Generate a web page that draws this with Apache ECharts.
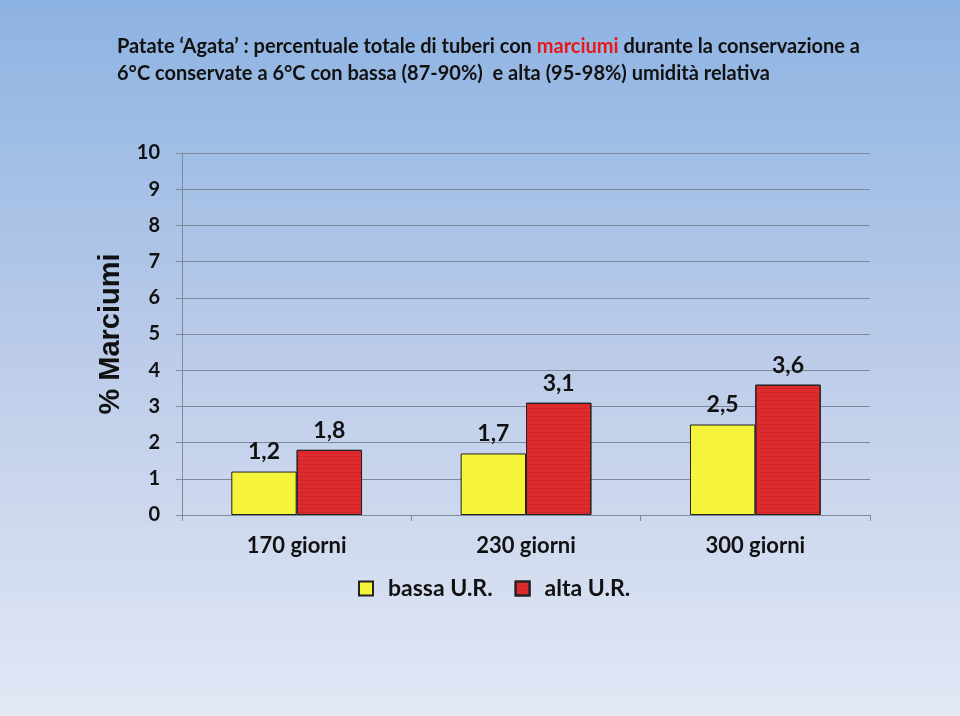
<!DOCTYPE html>
<html><head><meta charset="utf-8">
<script src="https://cdn.jsdelivr.net/npm/echarts@6/dist/echarts.min.js"></script>
<style>html,body{margin:0;padding:0}#c{width:960px;height:716px}</style>
</head><body><div id="c"></div>
<script>
const categories = ['170 giorni', '230 giorni', '300 giorni'];
const bassaUR = [1.2, 1.7, 2.5];
const altaUR = [1.8, 3.1, 3.6];
const seriesNames = ['bassa U.R.', 'alta U.R.'];
const yTicks = [0, 1, 2, 3, 4, 5, 6, 7, 8, 9, 10];

const FONT = 'Lato, "Open Sans", sans-serif';
const chart = echarts.init(document.getElementById('c'));
const fmt = p => String(p.value).replace('.', ',');
chart.setOption({
  animation: false,
  backgroundColor: {
    type: 'linear', x: 0, y: 0, x2: 0, y2: 1,
    colorStops: [{offset: 0, color: '#8db3e2'}, {offset: 0.5, color: '#bccce9'}, {offset: 1, color: '#e3e8f5'}]
  },
  title: {
    left: 112, top: 28,
    text: '{a|Patate \u2018Agata\u2019 : percentuale totale di tuberi con }{r|marciumi}{a| durante la conservazione a}\n{a|6\u00b0C conservate a 6\u00b0C con bassa (87-90%)  e alta (95-98%) umidit\u00e0 relativa}',
    textStyle: {
      rich: {
        a: {fontFamily: FONT, fontSize: 20, fontWeight: 'bold', color: '#111', lineHeight: 27},
        r: {fontFamily: FONT, fontSize: 20, fontWeight: 'bold', color: '#e8171a', lineHeight: 27}
      }
    }
  },
  legend: {
    top: 572, left: 353,
    itemWidth: 14, itemHeight: 14, itemGap: 22,
    icon: 'rect',
    textStyle: {fontFamily: FONT, fontSize: 23, fontWeight: 'bold', color: '#111', padding: [0, 0, 0, 10]},
    data: seriesNames
  },
  grid: {left: 182, right: 90, top: 153, bottom: 201, containLabel: false},
  xAxis: {
    type: 'category', data: categories,
    axisLine: {lineStyle: {color: '#7f8a99', width: 1}},
    axisTick: {show: true, length: 6, lineStyle: {color: '#7f8a99'}},
    axisLabel: {fontFamily: FONT, fontSize: 22, color: '#111', fontWeight: 'bold', margin: 20}
  },
  yAxis: {
    type: 'value', min: 0, max: 10, interval: 1,
    name: '% Marciumi', nameLocation: 'middle', nameGap: 54, nameRotate: 90,
    nameTextStyle: {fontFamily: '"Liberation Sans", Arial, sans-serif', fontSize: 29, fontWeight: 'bold', color: '#111'},
    axisLine: {show: true, lineStyle: {color: '#7f8a99'}},
    axisTick: {show: true, length: 6, inside: false, lineStyle: {color: '#7f8a99'}},
    axisLabel: {fontFamily: FONT, fontSize: 20, fontWeight: 'bold', color: '#111', margin: 22,
      formatter: v => yTicks.includes(v) ? String(v) : ''},
    splitLine: {show: true, lineStyle: {color: '#7e8a9c', width: 1.2}}
  },
  series: [
    {
      name: seriesNames[0], type: 'bar', data: bassaUR,
      barGap: '0%', barCategoryGap: '43%',
      itemStyle: {color: '#f5f43a', borderColor: '#222', borderWidth: 1},
      label: {show: true, position: 'top', distance: 8, formatter: fmt,
        fontFamily: FONT, fontSize: 23, fontWeight: 'bold', color: '#111'}
    },
    {
      name: seriesNames[1], type: 'bar', data: altaUR,
      itemStyle: {color: '#de2b2d', borderColor: '#222', borderWidth: 1,
        decal: {symbol: 'rect', dashArrayX: [1, 0], dashArrayY: [1, 3], rotation: 0, color: 'rgba(170,20,20,0.25)'}},
      label: {show: true, position: 'top', distance: 8, formatter: fmt,
        fontFamily: FONT, fontSize: 23, fontWeight: 'bold', color: '#111'}
    }
  ]
});
</script></body></html>
